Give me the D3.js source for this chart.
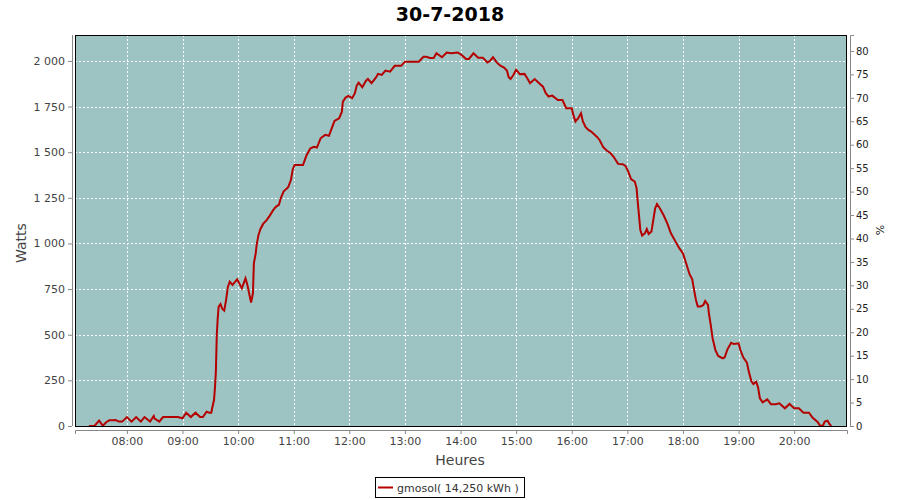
<!DOCTYPE html>
<html><head><meta charset="utf-8">
<script src="https://cdn.jsdelivr.net/npm/d3@7"></script>
<style>body{margin:0;background:#fff}svg{display:block;font-family:"DejaVu Sans",sans-serif}</style>
</head><body><svg id="c" width="900" height="500"></svg>
<script>
const title = "30-7-2018";
const seriesName = "gmosol( 14,250 kWh )";
const times = ["07:19","07:25","07:30","07:34","07:38","07:41","07:45","07:48","07:51","07:55","08:00","08:05","08:10","08:15","08:19","08:25","08:29","08:30","08:35","08:39","08:55","09:00","09:04","09:09","09:14","09:19","09:22","09:26","09:29","09:31","09:32","09:34","09:35","09:36","09:37","09:38","09:39","09:41","09:43","09:45","09:47","09:49","09:51","09:54","09:59","10:04","10:08","10:10","10:13","10:14","10:16","10:17","10:19","10:20","10:22","10:24","10:27","10:31","10:34","10:38","10:41","10:44","10:46","10:49","10:52","10:54","10:57","10:59","11:01","11:10","11:12","11:14","11:18","11:22","11:25","11:29","11:34","11:38","11:41","11:44","11:49","11:52","11:53","11:56","11:59","12:03","12:06","12:08","12:10","12:14","12:18","12:20","12:24","12:29","12:31","12:35","12:39","12:44","12:49","12:56","13:00","13:15","13:20","13:23","13:27","13:31","13:34","13:40","13:45","13:50","13:57","14:01","14:06","14:09","14:14","14:19","14:24","14:29","14:32","14:35","14:39","14:43","14:47","14:50","14:52","14:54","14:57","15:00","15:04","15:09","15:12","15:15","15:20","15:26","15:29","15:32","15:35","15:39","15:45","15:50","15:54","16:00","16:02","16:04","16:07","16:10","16:12","16:15","16:18","16:21","16:27","16:30","16:34","16:38","16:42","16:45","16:50","16:55","16:58","17:01","17:04","17:08","17:10","17:11","17:13","17:14","17:16","17:19","17:21","17:23","17:26","17:28","17:30","17:32","17:35","17:39","17:43","17:47","17:52","17:56","18:00","18:04","18:07","18:10","18:12","18:14","18:16","18:19","18:22","18:24","18:27","18:28","18:30","18:32","18:35","18:38","18:43","18:45","18:48","18:52","18:55","19:00","19:02","19:05","19:09","19:11","19:14","19:16","19:19","19:21","19:23","19:26","19:31","19:35","19:40","19:44","19:50","19:55","20:00","20:05","20:10","20:16","20:20","20:25","20:28","20:31","20:33","20:36","20:38","20:40"];
const watts = [0,0,29,2,22,31,31,33,24,24,49,24,49,24,49,24,55,40,24,49,49,42,73,49,73,49,49,78,73,73,97,142,208,298,499,590,654,668,641,632,690,763,791,773,804,754,809,773,700,676,727,891,946,992,1047,1078,1107,1129,1151,1184,1202,1211,1247,1284,1299,1308,1348,1406,1430,1430,1458,1485,1521,1530,1525,1576,1595,1590,1631,1671,1686,1722,1777,1799,1808,1796,1823,1865,1881,1856,1892,1901,1878,1911,1929,1923,1947,1941,1973,1973,1996,1996,2023,2023,2016,2016,2042,2020,2046,2042,2046,2033,2011,2011,2042,2018,2018,1992,2001,2020,1992,1974,1963,1947,1911,1901,1923,1951,1927,1929,1905,1878,1901,1872,1859,1823,1805,1810,1786,1786,1741,1741,1699,1668,1686,1713,1668,1637,1622,1613,1585,1567,1527,1508,1494,1476,1436,1434,1425,1393,1352,1339,1302,1238,1129,1074,1043,1056,1079,1052,1065,1129,1193,1216,1193,1156,1111,1056,1010,974,946,882,833,804,745,690,654,654,663,685,663,617,553,480,416,384,371,376,420,456,449,453,416,376,347,298,243,230,243,212,152,130,146,119,119,124,97,121,97,97,73,73,45,24,2,2,24,29,11,0];
const leftTicks = [0,250,500,750,1000,1250,1500,1750,2000];
const rightTicks = [0,5,10,15,20,25,30,35,40,45,50,55,60,65,70,75,80];
const hourTicks = [8,9,10,11,12,13,14,15,16,17,18,19,20];

const svg = d3.select("#c");
const L = 75, R = 847, T = 35, B = 426;
const day = (h, m) => new Date(2018, 6, 30, h, m);
const parse = s => { const [h, m] = s.split(":").map(Number); return day(h, m); };
const x = d3.scaleTime().domain([day(7, 4), day(20, 57)]).range([L, R]);
const y = d3.scaleLinear().domain([0, 2142]).range([B, T]);
const y2 = d3.scaleLinear().domain([0, 83.4]).range([B, T]);

svg.append("text").attr("x", 450).attr("y", 21).attr("text-anchor", "middle")
  .attr("font-size", 19).attr("font-weight", "bold").attr("fill", "#000").text(title);

svg.append("rect").attr("x", L).attr("y", T).attr("width", R - L).attr("height", B - T).attr("fill", "#9dc3c2");

const grid = svg.append("g").attr("stroke", "#fff").attr("stroke-width", 1).attr("stroke-dasharray", "2,2");
hourTicks.forEach(h => {
  const xx = Math.round(x(day(h, 0))) + 0.5;
  grid.append("line").attr("x1", xx).attr("x2", xx).attr("y1", T).attr("y2", B);
});
leftTicks.filter(v => v > 0).forEach(v => {
  const yy = Math.round(y(v)) + 0.5;
  grid.append("line").attr("x1", L).attr("x2", R).attr("y1", yy).attr("y2", yy);
});

const data = times.map((t, i) => ({ t: parse(t), v: watts[i] }));
svg.append("path").datum(data).attr("fill", "none").attr("stroke", "#b40000").attr("stroke-width", 2)
  .attr("stroke-linejoin", "miter")
  .attr("d", d3.line().x(d => x(d.t)).y(d => y(d.v)));

svg.append("rect").attr("x", L + 0.5).attr("y", T + 0.5).attr("width", R - L - 1).attr("height", B - T)
  .attr("fill", "none").attr("stroke", "#000").attr("stroke-width", 1);

const styleAxis = g => {
  g.select(".domain").attr("stroke", "#888");
  g.selectAll(".tick line").attr("stroke", "#888");
  g.selectAll(".tick text").attr("fill", "#444").attr("font-family", "DejaVu Sans, sans-serif");
};
const fmtW = v => d3.format(",")(v).replace(/,/g, " ");
const gl = svg.append("g").attr("transform", "translate(72,0)")
  .call(d3.axisLeft(y).tickValues(leftTicks).tickFormat(fmtW).tickSizeOuter(0).tickSize(4).tickPadding(3));
gl.call(styleAxis); gl.selectAll(".tick text").attr("font-size", 11);
gl.select(".domain").attr("d", `M0.5,${T}V${B}`);

const gb = svg.append("g").attr("transform", "translate(0,430)")
  .call(d3.axisBottom(x).tickValues(hourTicks.map(h => day(h, 0))).tickFormat(d3.timeFormat("%H:%M")).tickSizeOuter(0).tickSize(4).tickPadding(3));
gb.call(styleAxis); gb.selectAll(".tick text").attr("font-size", 11);

const gr = svg.append("g").attr("transform", "translate(850,0)")
  .call(d3.axisRight(y2).tickValues(rightTicks).tickSizeOuter(0).tickSize(4).tickPadding(2));
gr.call(styleAxis); gr.selectAll(".tick text").attr("font-size", 10).attr("fill", "#222");

svg.append("text").attr("transform", "translate(26,243) rotate(-90)").attr("text-anchor", "middle")
  .attr("font-size", 14).attr("fill", "#444").text("Watts");
svg.append("text").attr("transform", "translate(884,230) rotate(-90)").attr("text-anchor", "middle")
  .attr("font-size", 11).attr("fill", "#222").text("%");
svg.append("text").attr("x", 460).attr("y", 465).attr("text-anchor", "middle")
  .attr("font-size", 14).attr("fill", "#444").text("Heures");

const lg = svg.append("g");
lg.append("rect").attr("x", 375.5).attr("y", 477.5).attr("width", 149).attr("height", 20).attr("fill", "#fff").attr("stroke", "#000");
lg.append("line").attr("x1", 378).attr("x2", 393).attr("y1", 487.5).attr("y2", 487.5).attr("stroke", "#b40000").attr("stroke-width", 2);
lg.append("text").attr("x", 397).attr("y", 492).attr("font-size", 11).attr("fill", "#333").text(seriesName);
</script></body></html>
